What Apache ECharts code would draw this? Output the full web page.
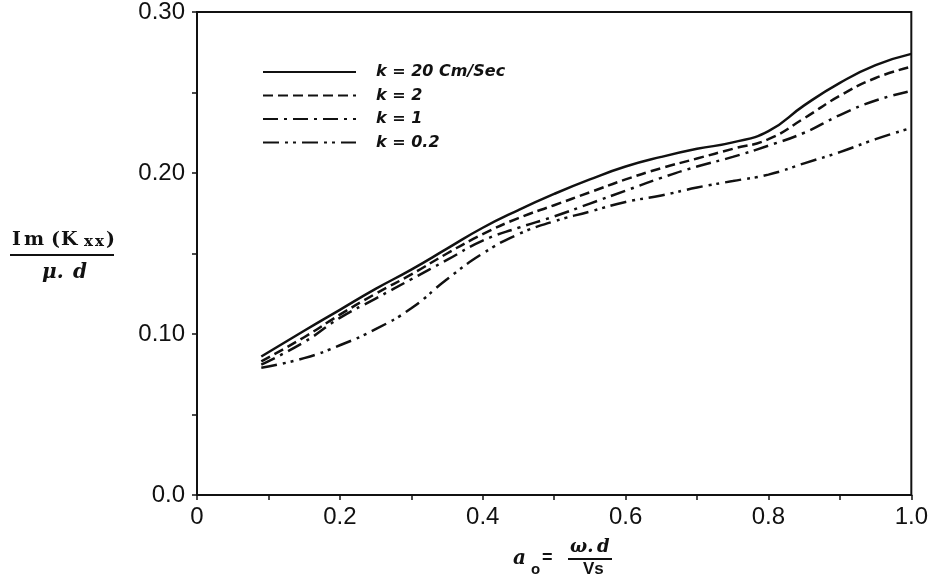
<!DOCTYPE html>
<html>
<head>
<meta charset="utf-8">
<script src="https://cdn.jsdelivr.net/npm/echarts@6/dist/echarts.min.js"></script>
<style>
  html, body { margin: 0; padding: 0; background: #fff; }
  #chart { width: 931px; height: 579px; }
</style>
</head>
<body>
<div id="chart"></div>
<script>
// frequency ratio a0 on the x axis
const a0 = [0.09, 0.15, 0.2, 0.25, 0.3, 0.35, 0.4, 0.45, 0.5, 0.55, 0.6, 0.65, 0.7, 0.75, 0.8, 0.85, 0.9, 0.95, 1.0];

// Im(Kxx)/(mu.d) for each permeability k
const k20  = [0.086, 0.102, 0.115, 0.128, 0.140, 0.153, 0.166, 0.177, 0.187, 0.196, 0.204, 0.210, 0.215, 0.219, 0.226, 0.242, 0.256, 0.267, 0.274];
const k2   = [0.083, 0.098, 0.112, 0.125, 0.137, 0.150, 0.162, 0.172, 0.180, 0.188, 0.196, 0.203, 0.209, 0.215, 0.221, 0.234, 0.248, 0.259, 0.266];
const k1   = [0.081, 0.095, 0.110, 0.122, 0.134, 0.146, 0.158, 0.166, 0.173, 0.181, 0.189, 0.197, 0.204, 0.210, 0.217, 0.225, 0.236, 0.245, 0.251];
const k02  = [0.079, 0.085, 0.093, 0.103, 0.116, 0.134, 0.150, 0.162, 0.170, 0.176, 0.182, 0.186, 0.191, 0.195, 0.199, 0.206, 0.213, 0.221, 0.228];

const seriesNames = ['k = 20 Cm/Sec', 'k = 2', 'k = 1', 'k = 0.2'];

const ink = '#111';
const tickFont = '"Liberation Sans", Arial, sans-serif';
const serif = '"DejaVu Serif", "Liberation Serif", serif';

function pairs(ys) {
  return a0.map((x, i) => [x, ys[i]]);
}

function curve(name, ys, dash) {
  return {
    name: name,
    type: 'line',
    data: pairs(ys),
    smooth: 0.5,
    symbol: 'none',
    lineStyle: { color: ink, width: 2.5, type: dash, cap: 'butt' },
    itemStyle: { color: ink }
  };
}

function glyph(ch, x, y, size, extra) {
  return {
    type: 'text', left: x, top: y,
    style: Object.assign({ text: ch, fill: ink, fontSize: size, fontWeight: 'bold', fontFamily: serif }, extra || {})
  };
}

const chart = echarts.init(document.getElementById('chart'));

chart.setOption({
  backgroundColor: '#fff',
  animation: false,
  grid: {
    left: 197, right: 13, top: 11, bottom: 84,
    show: true, borderColor: ink, borderWidth: 2
  },
  legend: {
    orient: 'vertical',
    left: 257, top: 59,
    itemWidth: 93, itemHeight: 14, itemGap: 7.5,
    data: seriesNames,
    itemStyle: { color: 'transparent', borderWidth: 0 },
    textStyle: {
      color: ink, fontSize: 16, fontStyle: 'italic', fontWeight: 'bold',
      fontFamily: '"DejaVu Sans", sans-serif', padding: [0, 0, 0, 15]
    }
  },
  xAxis: {
    type: 'value',
    min: 0, max: 1, interval: 0.1,
    axisLine: { lineStyle: { color: ink, width: 2 } },
    axisTick: { show: true, length: 5, lineStyle: { color: ink, width: 1.5 } },
    splitLine: { show: false },
    axisLabel: {
      color: ink, fontSize: 24, fontFamily: tickFont, margin: 10,
      formatter: v => {
        const t = Math.round(v * 10);
        if (t % 2) return '';
        return t === 0 ? '0' : (t / 10).toFixed(1);
      }
    }
  },
  yAxis: {
    type: 'value',
    min: 0, max: 0.3, interval: 0.05,
    axisLine: { lineStyle: { color: ink, width: 2 } },
    axisTick: { show: true, length: 5, lineStyle: { color: ink, width: 1.5 } },
    splitLine: { show: false },
    axisLabel: {
      color: ink, fontSize: 24, fontFamily: tickFont, margin: 12,
      formatter: v => {
        const t = Math.round(v * 20);
        if (t % 2) return '';
        return t === 0 ? '0.0' : (t / 20).toFixed(2);
      }
    }
  },
  series: [
    curve(seriesNames[0], k20, 'solid'),
    curve(seriesNames[1], k2, [10, 5]),
    curve(seriesNames[2], k1, [15, 6, 3, 6]),
    curve(seriesNames[3], k02, [16, 6, 3, 5, 3, 6])
  ],
  graphic: [
    // y axis title: Im(Kxx) over mu.d, typewriter-spaced
    glyph('I', 12, 231, 19),
    glyph('m', 24, 231, 19),
    glyph('(', 51, 231, 19),
    glyph('K', 61, 231, 19),
    glyph('x', 84, 235, 15),
    glyph('x', 95, 235, 15),
    glyph(')', 106, 231, 19),
    { type: 'line', shape: { x1: 10, y1: 255, x2: 114, y2: 255 }, style: { stroke: ink, lineWidth: 2 } },
    glyph('μ.', 42, 263, 20, { fontStyle: 'italic' }),
    glyph('d', 73, 263, 20, { fontStyle: 'italic' }),
    // x axis title: a0 = omega.d / Vs
    glyph('a', 513, 549, 20, { fontStyle: 'italic' }),
    glyph('o', 531, 562, 15, { fontFamily: '"Liberation Sans", sans-serif' }),
    glyph('=', 542, 549, 18, { fontFamily: '"Liberation Sans", sans-serif' }),
    glyph('ω.', 570, 538, 18, { fontStyle: 'italic' }),
    glyph('d', 597, 538, 18, { fontStyle: 'italic' }),
    { type: 'line', shape: { x1: 568, y1: 559, x2: 612, y2: 559 }, style: { stroke: ink, lineWidth: 2 } },
    glyph('Vs', 583, 561, 17, { fontFamily: '"Liberation Sans", sans-serif' })
  ]
});
</script>
</body>
</html>
